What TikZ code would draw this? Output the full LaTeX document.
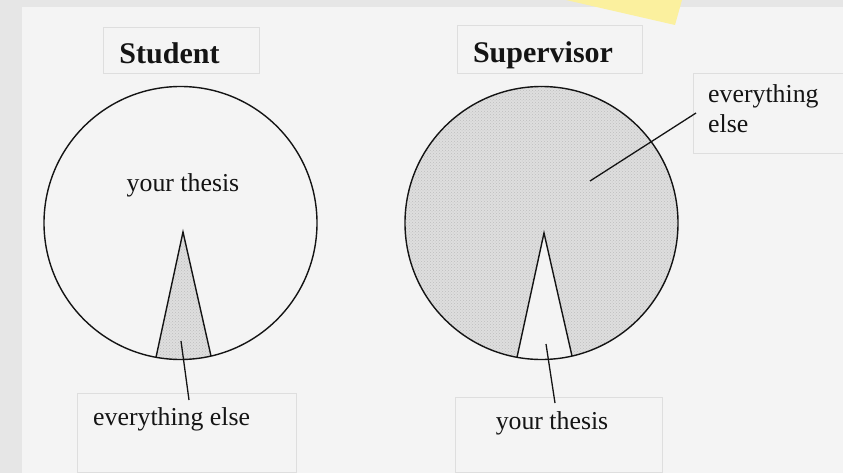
\documentclass[tikz,border=0pt]{standalone}
\usepackage{fontspec}
\setmainfont{Liberation Serif}
\usetikzlibrary{calc,patterns}
\definecolor{ink}{HTML}{141414}
\definecolor{slide}{HTML}{F4F4F4}
\definecolor{frame}{HTML}{E6E6E6}
\definecolor{edge}{HTML}{DEDEDE}
\definecolor{stip}{HTML}{DEDEDE}
\definecolor{dots}{HTML}{BEBEBE}
\definecolor{note}{HTML}{FBF09E}
\tikzset{
  ring/.style={draw=ink, line width=1.4pt},
  lead/.style={draw=ink, line width=1.3pt},
  tbox/.style={draw=edge, line width=0.8pt},
  head/.style={font=\fontsize{30}{30}\selectfont\bfseries, text=ink, anchor=base, inner sep=0pt},
  lbl/.style={font=\fontsize{25.8}{30}\selectfont, text=ink, inner sep=0pt},
  stipple/.style={fill=stip, postaction={pattern=crosshatch dots, pattern color=dots}},
}

\begin{document}
\begin{tikzpicture}[x=1pt,y=-1pt]
  \useasboundingbox (0,0) rectangle (843,473);
  % slide, frame and the sticky note
  \fill[frame] (0,0) rectangle (843,473);
  \fill[slide] (22,7) rectangle (843,473);
  \fill[note] (566,0) -- (682,0) -- (675,25) -- cycle;
  % text boxes
  \draw[tbox] (103,27) rectangle (259,73);
  \draw[tbox] (457,25) rectangle (642,73);
  \draw[tbox] (693,73) rectangle (850,153);
  \draw[tbox] (77,393) rectangle (296,472);
  \draw[tbox] (455,397) rectangle (662,472);

  % student pie
  \coordinate (stuc) at (180.5,223);
  \coordinate (stutip) at (183,232);
  \coordinate (stul) at (156,357.3);
  \coordinate (stur) at (211,356);
  \begin{scope}
    \clip (stuc) circle[radius=136.5];
    \fill[stipple] (stutip) -- ($(stutip)!1.5!(stul)$) -- ($(stutip)!1.5!(stur)$) -- cycle;
  \end{scope}
  \draw[ring] (stuc) circle[radius=136.5];
  \draw[ring] (stul) -- (stutip) -- (stur);

  % supervisor pie
  \coordinate (supc) at (541.5,223);
  \coordinate (suptip) at (544,233);
  \coordinate (supl) at (517,357.3);
  \coordinate (supr) at (572,356);
  \fill[stipple] (supc) circle[radius=136.5];
  \begin{scope}
    \clip (supc) circle[radius=136.5];
    \fill[slide] (suptip) -- ($(suptip)!1.5!(supl)$) -- ($(suptip)!1.5!(supr)$) -- cycle;
  \end{scope}
  \draw[ring] (supc) circle[radius=136.5];
  \draw[ring] (supl) -- (suptip) -- (supr);

  % labels
  \node[head] (stuhead) at (169.5,64) {Student};
  \node[head] (suphead) at (543,63) {Supervisor};
  \node[lbl, anchor=base] (stuthesis) at (183,192) {your thesis};
  \node[lbl, anchor=base west] (stuelse) at (93,425) {everything else};
  \node[lbl, anchor=base] (supthesis) at (552,429) {your thesis};
  \node[lbl, anchor=base west, align=left] (supelse) at (708,133) {everything\\else};

  % leaders
  \coordinate (stupt) at (181,341);
  \coordinate (stuend) at (189,400);
  \coordinate (supinpt) at (546,344);
  \coordinate (supinend) at (555,403);
  \coordinate (supoutpt) at (590,181);
  \coordinate (supoutend) at (696,113);
  \draw[lead] (stupt) -- (stuend);
  \draw[lead] (supinpt) -- (supinend);
  \draw[lead] (supoutpt) -- (supoutend);
\end{tikzpicture}
\end{document}
